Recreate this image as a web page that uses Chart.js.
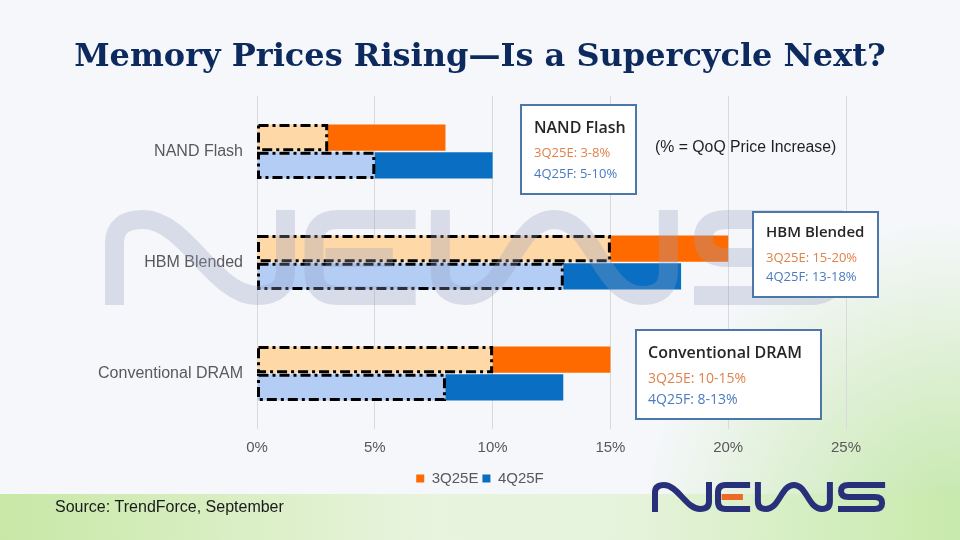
<!DOCTYPE html>
<html>
<head>
<meta charset="utf-8">
<script src="https://cdn.jsdelivr.net/npm/chart.js@4.4.0/dist/chart.umd.min.js"></script>
<style>
  html, body { margin: 0; padding: 0; background: #f5f7fa; }
  #wrap { width: 960px; height: 540px; }
</style>
</head>
<body>
<div id="wrap"><canvas id="memCanvas" width="960" height="540"></canvas></div>
<script>
// data (% QoQ price increase, low / high end of range)
const categories = ["NAND Flash", "HBM Blended", "Conventional DRAM"];
const seriesNames = ["3Q25E", "4Q25F"];
const q3Low = [3, 15, 10];
const q3High = [8, 20, 15];
const q4Low = [5, 13, 8];
const q4High = [10, 18, 13];
const tickValues = [0, 5, 10, 15, 20, 25];

const orange = "#ff6a00";
const lightOrange = "#ffd8a8";
const blue = "#0a6fc2";
const lightBlue = "#b3cdf5";

const canvas = document.getElementById("memCanvas");

// draws the NEWS logo strokes, h = letter height
function drawLogo(ctx, ox, oy, h, navy, accent) {
    ctx.save();
    ctx.translate(ox, oy);
    ctx.scale(h, h);
    ctx.lineWidth = 0.2;
    ctx.lineJoin = "round";
    ctx.lineCap = "butt";
    ctx.strokeStyle = navy;
    ctx.beginPath();
    // N
    ctx.moveTo(0.1, 1.0);
    ctx.lineTo(0.1, 0.35);
    ctx.quadraticCurveTo(0.1, 0.1, 0.4, 0.1);
    ctx.bezierCurveTo(0.85, 0.1, 1.15, 0.9, 1.6, 0.9);
    ctx.quadraticCurveTo(1.9, 0.9, 1.9, 0.65);
    ctx.lineTo(1.9, 0.0);
    // E
    ctx.moveTo(3.27, 0.1);
    ctx.lineTo(2.45, 0.1);
    ctx.quadraticCurveTo(2.2, 0.1, 2.2, 0.35);
    ctx.lineTo(2.2, 0.65);
    ctx.quadraticCurveTo(2.2, 0.9, 2.45, 0.9);
    ctx.lineTo(3.27, 0.9);
    // W
    ctx.moveTo(3.53, 0.0);
    ctx.lineTo(3.53, 0.65);
    ctx.quadraticCurveTo(3.53, 0.9, 3.8, 0.9);
    ctx.bezierCurveTo(4.25, 0.9, 4.3, 0.1, 4.73, 0.1);
    ctx.bezierCurveTo(5.16, 0.1, 5.21, 0.9, 5.66, 0.9);
    ctx.quadraticCurveTo(5.93, 0.9, 5.93, 0.65);
    ctx.lineTo(5.93, 0.0);
    // S
    ctx.moveTo(7.77, 0.1);
    ctx.lineTo(6.55, 0.1);
    ctx.quadraticCurveTo(6.3, 0.1, 6.3, 0.3);
    ctx.quadraticCurveTo(6.3, 0.5, 6.55, 0.5);
    ctx.lineTo(7.42, 0.5);
    ctx.quadraticCurveTo(7.67, 0.5, 7.67, 0.7);
    ctx.quadraticCurveTo(7.67, 0.9, 7.42, 0.9);
    ctx.lineTo(6.2, 0.9);
    ctx.stroke();
    ctx.strokeStyle = accent;
    ctx.beginPath();
    ctx.moveTo(2.32, 0.5);
    ctx.lineTo(3.03, 0.5);
    ctx.stroke();
    ctx.restore();
}

const backdrop = {
    id: "backdrop",
    beforeDraw(chart) {
        const ctx = chart.ctx;
        ctx.save();
        ctx.fillStyle = "#f5f7fa";
        ctx.fillRect(0, 0, 960, 540);
        const glow = ctx.createRadialGradient(960, 540, 0, 960, 540, 320);
        glow.addColorStop(0, "rgba(190,230,160,0.95)");
        glow.addColorStop(1, "rgba(190,230,160,0)");
        ctx.fillStyle = glow;
        ctx.fillRect(560, 200, 400, 340);
        const band = ctx.createLinearGradient(0, 0, 960, 0);
        band.addColorStop(0, "rgb(200,232,166)");
        band.addColorStop(0.45, "rgb(232,244,222)");
        band.addColorStop(0.65, "rgb(230,243,220)");
        band.addColorStop(1, "rgb(200,234,172)");
        ctx.fillStyle = band;
        ctx.fillRect(0, 494, 960, 46);
        ctx.restore();
    }
};

// dash-dot outline round the low part of each range
const dashBorder = {
    id: "dashBorder",
    afterDatasetsDraw(chart) {
        const ctx = chart.ctx;
        chart.data.datasets.forEach((ds, di) => {
            if (!ds.dashed) return;
            chart.getDatasetMeta(di).data.forEach(bar => {
                const p = bar.getProps(["x", "y", "base", "height"], true);
                const left = Math.min(p.x, p.base);
                const w = Math.abs(p.x - p.base);
                ctx.save();
                ctx.strokeStyle = "#000";
                ctx.lineWidth = 3;
                ctx.setLineDash([10, 4, 3, 4]);
                ctx.strokeRect(left + 1, p.y - p.height / 2 + 1, w - 2, p.height - 2);
                ctx.restore();
            });
        });
        // watermark sits over the bars
        drawLogo(ctx, 105, 210, 95, "rgba(150,158,192,0.3)", "rgba(150,158,192,0.3)");
    }
};

function noteBox(ctx, x, y, w, h, i, titleSize, lineSize, tx, ty, l1, l2) {
    ctx.save();
    ctx.fillStyle = "#ffffff";
    ctx.fillRect(x, y, w, h);
    ctx.strokeStyle = "#4c77a9";
    ctx.lineWidth = 2;
    ctx.strokeRect(x, y, w, h);
    ctx.textBaseline = "middle";
    ctx.textAlign = "left";
    ctx.fillStyle = "#262626";
    ctx.font = "600 " + titleSize + "px 'Open Sans'";
    ctx.fillText(categories[i], x + tx, y + ty);
    ctx.font = lineSize + "px 'Open Sans'";
    ctx.fillStyle = "#e0824a";
    ctx.fillText(seriesNames[0] + ": " + q3Low[i] + "-" + q3High[i] + "%", x + tx, y + l1);
    ctx.fillStyle = "#4a7bbf";
    ctx.fillText(seriesNames[1] + ": " + q4Low[i] + "-" + q4High[i] + "%", x + tx, y + l2);
    ctx.restore();
}

const notes = {
    id: "notes",
    afterDraw(chart) {
        const ctx = chart.ctx;
        noteBox(ctx, 521, 105, 115, 89, 0, 16, 13, 13, 23, 48, 69);
        noteBox(ctx, 753, 212, 125, 85, 1, 15, 13, 13, 21, 46, 65);
        noteBox(ctx, 636, 330, 185, 89, 2, 16, 14, 12, 23, 49, 70);
        ctx.save();
        ctx.textBaseline = "middle";
        ctx.fillStyle = "#1f1f1f";
        ctx.font = "15.8px 'Liberation Sans'";
        ctx.fillText("(% = QoQ Price Increase)", 655, 148);
        ctx.fillStyle = "#1a1a1a";
        ctx.font = "16px 'Liberation Sans'";
        ctx.fillText("Source: TrendForce, September", 55, 508);
        ctx.restore();
        drawLogo(ctx, 652, 482, 30, "#28307a", "#ee6a24");
    }
};

const memChart = new Chart(canvas, {
    type: "bar",
    data: {
        labels: categories,
        datasets: [
            {
                label: seriesNames[0],
                data: categories.map((c, i) => [q3Low[i], q3High[i]]),
                backgroundColor: orange,
                stack: "q3"
            },
            {
                label: seriesNames[0],
                data: categories.map((c, i) => [0, q3Low[i]]),
                backgroundColor: lightOrange,
                stack: "q3",
                dashed: true
            },
            {
                label: seriesNames[1],
                data: categories.map((c, i) => [q4Low[i], q4High[i]]),
                backgroundColor: blue,
                stack: "q4"
            },
            {
                label: seriesNames[1],
                data: categories.map((c, i) => [0, q4Low[i]]),
                backgroundColor: lightBlue,
                stack: "q4",
                dashed: true
            }
        ]
    },
    options: {
        indexAxis: "y",
        responsive: false,
        animation: false,
        layout: { padding: { top: 96, bottom: 44, left: 0, right: 0 } },
        datasets: { bar: { categoryPercentage: 0.5, barPercentage: 0.95 } },
        scales: {
            x: {
                stacked: false,
                min: 0,
                max: 25,
                afterBuildTicks: scale => { scale.ticks = tickValues.map(v => ({ value: v })); },
                ticks: {
                    callback: v => v + "%",
                    color: "#595959",
                    font: { family: "'Liberation Sans'", size: 15 },
                    padding: 10,
                    maxRotation: 0
                },
                grid: { color: "#d9d9d9", drawTicks: false },
                border: { display: false }
            },
            y: {
                z: 1,
                grid: { display: false },
                border: { display: false },
                ticks: {
                    color: "#595959",
                    font: { family: "'Liberation Sans'", size: 16 },
                    padding: 6
                },
                afterFit: scale => { scale.width = 257; }
            },
            yRight: {
                type: "category",
                position: "right",
                grid: { display: false },
                border: { display: false },
                ticks: { display: false },
                afterFit: scale => { scale.width = 114; }
            }
        },
        plugins: {
            title: {
                display: true,
                text: "Memory Prices Rising\u2014Is a Supercycle Next?",
                color: "#0c2a5e",
                font: { family: "'DejaVu Serif'", size: 32, weight: "bold" },
                padding: { top: -58, bottom: 19.6 }
            },
            legend: {
                position: "bottom",
                labels: {
                    filter: (item, data) => !data.datasets[item.datasetIndex].dashed,
                    boxWidth: 8,
                    boxHeight: 8,
                    padding: 4,
                    color: "#595959",
                    font: { family: "'Liberation Sans'", size: 15 }
                }
            },
            tooltip: { enabled: false }
        }
    },
    plugins: [backdrop, dashBorder, notes]
});
</script>
</body>
</html>
